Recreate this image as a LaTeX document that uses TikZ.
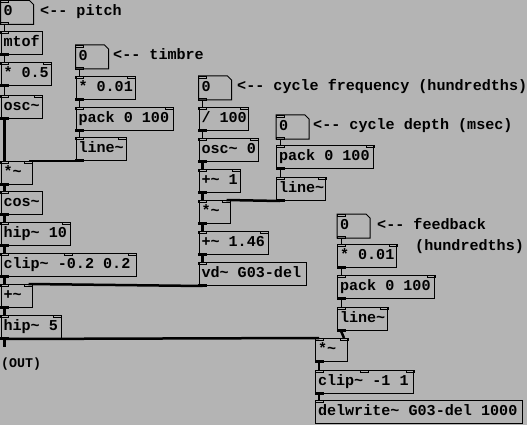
\documentclass[tikz,border=0pt]{standalone}
\usepackage{fontspec}
\newfontfamily\pdfam{Liberation Mono}
\usetikzlibrary{calc}
\definecolor{bg}{RGB}{180,180,180}
\newcommand\pdtxt{\pdfam\bfseries\fontsize{15.1pt}{18pt}\selectfont}
\newcommand\pdsmall{\pdfam\bfseries\fontsize{13.3pt}{16pt}\selectfont}
% object box: name, x, y, width, text
\newcommand\pdo[5]{\node[pdbox, minimum width=#4pt] (#1) at (#2,#3) {\makebox[\dimexpr#4pt-5pt\relax][l]{#5}};}
% number box: name, x, y
\newcommand\pdnum[3]{%
  \node[pdnumbox, minimum width=32pt] (#1) at (#2,#3) {\makebox[27pt][l]{0}};
  \draw[boxline] (#1.north west) -- ($(#1.north east)+(-4,0)$) -- ($(#1.north east)+(0,4)$) -- (#1.south east) -- (#1.south west) -- cycle;
  \pdinL{#1}\pdout{#1}}
\newcommand\pdinL[1]{\draw[io] (#1.north west) rectangle ++(8,2);}
\newcommand\pdinR[1]{\draw[io] ($(#1.north east)+(-8,0)$) rectangle ++(8,2);}
\newcommand\pdinM[1]{\draw[io] ($(#1.north)+(-4,0)$) rectangle ++(8,2);}
\newcommand\pdout[1]{\draw[io] ($(#1.south west)+(0,-2)$) rectangle ++(8,2);}
\newcommand\pdLRO[1]{\pdinL{#1}\pdinR{#1}\pdout{#1}}
\newcommand\pdctl[2]{\draw[ctlw] ($(#1.south west)+(4,0)$) -- ($(#2.north west)+(4,0)$);}
\newcommand\pdsig[2]{\draw[sigw] ($(#1.south west)+(4,0)$) -- ($(#2.north west)+(4,0)$);}
\newcommand\pdsigR[2]{\draw[sigw] ($(#1.south west)+(4,0)$) -- ($(#2.north east)+(-4,0)$);}
\begin{document}
\begin{tikzpicture}[x=1pt,y=-1pt,
  pdbox/.style={draw, line width=1pt, anchor=north west, inner xsep=2.5pt, inner ysep=0pt, minimum height=23pt, text height=10pt, text depth=3pt, font=\pdtxt},
  pdnumbox/.style={pdbox, draw=none},
  boxline/.style={line width=1pt},
  io/.style={line width=0.7pt},
  ctlw/.style={line width=1pt},
  sigw/.style={line width=2.5pt},
  cmt/.style={anchor=base west, inner sep=0pt, font=\pdtxt}]
\fill[bg] (0,0) rectangle (527,425);
\useasboundingbox (0,0) rectangle (527,425);

% left column
\pdnum{pnum}{0.5}{0.5}
\pdo{mtof}{0.5}{31}{41}{mtof} \pdinL{mtof}\pdout{mtof}
\pdo{mula}{0.5}{62}{50}{* 0.5} \pdLRO{mula}
\pdo{oscl}{0.5}{95}{41}{osc\textasciitilde} \pdLRO{oscl}
\pdo{mull}{0.5}{161}{31}{*\textasciitilde} \pdLRO{mull}
\pdo{cosl}{0.5}{191}{41}{cos\textasciitilde} \pdinL{cosl}\pdout{cosl}
\pdo{hipa}{0.5}{222}{69}{hip\textasciitilde{} 10} \pdLRO{hipa}
\pdo{clipa}{0.5}{253}{135}{clip\textasciitilde{} -0.2 0.2} \pdLRO{clipa}\pdinM{clipa}
\pdo{addl}{0.5}{284}{31}{+\textasciitilde} \pdLRO{addl}
\pdo{hipb}{0.5}{315}{60}{hip\textasciitilde{} 5} \pdLRO{hipb}

% timbre column
\pdnum{tnum}{75.5}{45}
\pdo{tmul}{75.5}{76}{59}{* 0.01} \pdLRO{tmul}
\pdo{tpack}{75.5}{107}{97}{pack 0 100} \pdLRO{tpack}
\pdo{tline}{75.5}{137}{50}{line\textasciitilde} \pdLRO{tline}

% cycle frequency column
\pdnum{fnum}{198.5}{76}
\pdo{div}{198.5}{107}{49}{/ 100} \pdLRO{div}
\pdo{osco}{198.5}{138}{59}{osc\textasciitilde{} 0} \pdLRO{osco}
\pdo{addo}{198.5}{169}{41}{+\textasciitilde{} 1} \pdLRO{addo}
\pdo{mulm}{198.5}{200}{31}{*\textasciitilde} \pdLRO{mulm}
\pdo{addp}{198.5}{231}{69}{+\textasciitilde{} 1.46} \pdLRO{addp}
\pdo{vd}{198.5}{262}{107}{vd\textasciitilde{} G03-del} \pdinL{vd}\pdout{vd}

% cycle depth column
\pdnum{dnum}{276}{115}
\pdo{dpack}{276}{145}{97}{pack 0 100} \pdLRO{dpack}
\pdo{dline}{276}{177}{49}{line\textasciitilde} \pdLRO{dline}

% feedback column
\pdnum{fbnum}{337}{214}
\pdo{fbmul}{337}{244}{59}{* 0.01} \pdLRO{fbmul}
\pdo{fbpack}{337}{275}{97}{pack 0 100} \pdLRO{fbpack}
\pdo{fbline}{337}{307}{50}{line\textasciitilde} \pdLRO{fbline}

% bottom column
\pdo{mulb}{315}{338}{32}{*\textasciitilde} \pdLRO{mulb}
\pdo{clipb}{315}{370}{98}{clip\textasciitilde{} -1 1} \pdLRO{clipb}\pdinM{clipb}
\pdo{delw}{315}{400}{207}{delwrite\textasciitilde{} G03-del 1000} \pdinL{delw}

% comments
\node[cmt] (cpitch) at (40,16) {<-{}- pitch};
\node[cmt] (ctimbre) at (113,60) {<-{}- timbre};
\node[cmt] (cfreq) at (237,91) {<-{}- cycle frequency (hundredths)};
\node[cmt] (cdepth) at (313,130) {<-{}- cycle depth (msec)};
\node[cmt] (cfb) at (377,229) {<-{}- feedback};
\node[cmt] (chund) at (415,250) {(hundredths)};
\node[cmt, font=\pdsmall] (cout) at (1,367) {(OUT)};

% connections
\pdctl{pnum}{mtof}
\pdctl{mtof}{mula}
\pdctl{mula}{oscl}
\pdsig{oscl}{mull}
\pdctl{tnum}{tmul}
\pdctl{tmul}{tpack}
\pdctl{tpack}{tline}
\pdsigR{tline}{mull}
\pdsig{mull}{cosl}
\pdsig{cosl}{hipa}
\pdsig{hipa}{clipa}
\pdsig{clipa}{addl}
\pdsigR{vd}{addl}
\pdsig{addl}{hipb}
\pdsig{hipb}{mulb}
\coordinate (outend) at (4.5,347);
\draw[sigw] ($(hipb.south west)+(4,0)$) -- (outend);
\pdctl{fnum}{div}
\pdctl{div}{osco}
\pdsig{osco}{addo}
\pdsig{addo}{mulm}
\pdctl{dnum}{dpack}
\pdctl{dpack}{dline}
\pdsigR{dline}{mulm}
\pdsig{mulm}{addp}
\pdsig{addp}{vd}
\pdctl{fbnum}{fbmul}
\pdctl{fbmul}{fbpack}
\pdctl{fbpack}{fbline}
\pdsigR{fbline}{mulb}
\pdsig{mulb}{clipb}
\pdsig{clipb}{delw}
\end{tikzpicture}
\end{document}
